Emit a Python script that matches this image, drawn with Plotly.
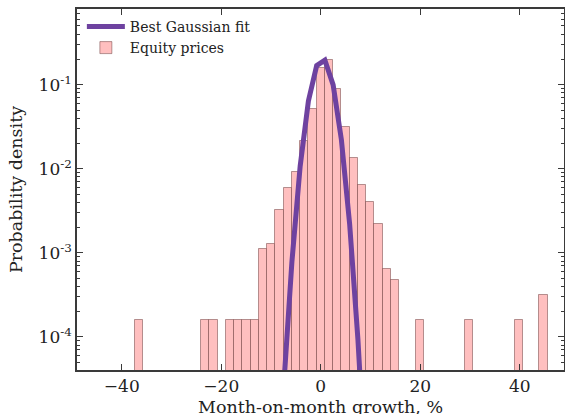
import numpy as np
import plotly.graph_objects as go

# ---- data ----
hist_start = -37.3          # left edge of first histogram bin (%)
bin_width = 1.658           # histogram bin width (%)
counts = [1, 0, 0, 0, 0, 0, 0, 0, 1, 1,
          0, 1, 1, 1, 1, 7, 8, 20, 37, 57,
          133, 325, 1000, 1245, 562, 199, 85, 40, 25, 14,
          4, 3, 0, 0, 1, 0, 0, 0, 0, 0,
          1, 0, 0, 0, 0, 0, 1, 0, 0, 2]

fit_x = [-9.11, -7.46, -5.80, -4.14, -2.48, -0.82, 0.83, 2.49, 4.15, 5.81, 7.47, 9.12]
fit_density = [3.5e-7, 2.5e-5, 7.8e-4, 0.0107, 0.064, 0.169, 0.196, 0.0995, 0.0222, 0.0022, 9.4e-5, 1.8e-6]

x_ticks = [-40, -20, 0, 20, 40]
y_ticks = [1e-4, 1e-3, 1e-2, 1e-1]
y_ticktext = ["10<sup>-4</sup>", "10<sup>-3</sup>", "10<sup>-2</sup>", "10<sup>-1</sup>"]
x_title = "Month-on-month growth, %"
y_title = "Probability density"

# ---- derived ----
counts_arr = np.array(counts, dtype=float)
centers = hist_start + bin_width * (np.arange(len(counts)) + 0.5)
density = counts_arr / (counts_arr.sum() * bin_width)
mask = counts_arr > 0
minor_vals = [m * 10.0 ** e for e in range(-5, 0) for m in range(2, 10)]

FONT = "DejaVu Serif"
AX = "#3a3a3a"

fig = go.Figure()
fig.add_trace(go.Bar(
    x=centers[mask], y=density[mask], width=bin_width,
    name="Equity prices",
    marker=dict(color="#ffbfbf", line=dict(color="rgba(90,40,40,0.45)", width=1)),
    legendrank=2,
))
fig.add_trace(go.Scatter(
    x=fit_x, y=fit_density, mode="lines",
    name="Best Gaussian fit",
    line=dict(color="#6e42a0", width=5),
    legendrank=1,
))

fig.update_layout(
    width=565, height=414,
    margin=dict(l=77, r=1, t=9, b=44, autoexpand=False),
    paper_bgcolor="white", plot_bgcolor="white",
    bargap=0,
    font=dict(family=FONT, size=17, color="#222"),
    showlegend=True,
    legend=dict(x=0.01, y=0.995, xanchor="left", yanchor="top",
                bgcolor="rgba(0,0,0,0)", font=dict(size=14, family=FONT),
                itemwidth=38, tracegroupgap=0),
    annotations=[dict(text=x_title, xref="paper", yref="paper", x=0.5, y=0,
                      xanchor="center", yanchor="top", yshift=-24.5, showarrow=False,
                      font=dict(size=17.5, family=FONT, color="#222"))],
)
fig.update_xaxes(
    range=[-49, 48.9], automargin=False,
    tickvals=x_ticks,
    ticks="inside", ticklen=6, tickwidth=1, tickcolor=AX,
    showline=True, linecolor=AX, linewidth=1.5, mirror="ticks",
    showgrid=False, zeroline=False,
)
fig.update_yaxes(
    type="log", automargin=False,
    range=[-4.393, -0.099],
    tickvals=y_ticks, ticktext=y_ticktext,
    ticks="inside", ticklen=6, tickwidth=1, tickcolor=AX,
    minor=dict(tickvals=minor_vals, ticks="inside", ticklen=3, tickcolor=AX, showgrid=False),
    showline=True, linecolor=AX, linewidth=1.5, mirror="ticks",
    showgrid=False, zeroline=False,
    title=dict(text=y_title, standoff=11, font=dict(size=17.5)),
)

fig.write_html("out.html", config={"displayModeBar": False},
               post_script="document.body.style.margin='0';")
